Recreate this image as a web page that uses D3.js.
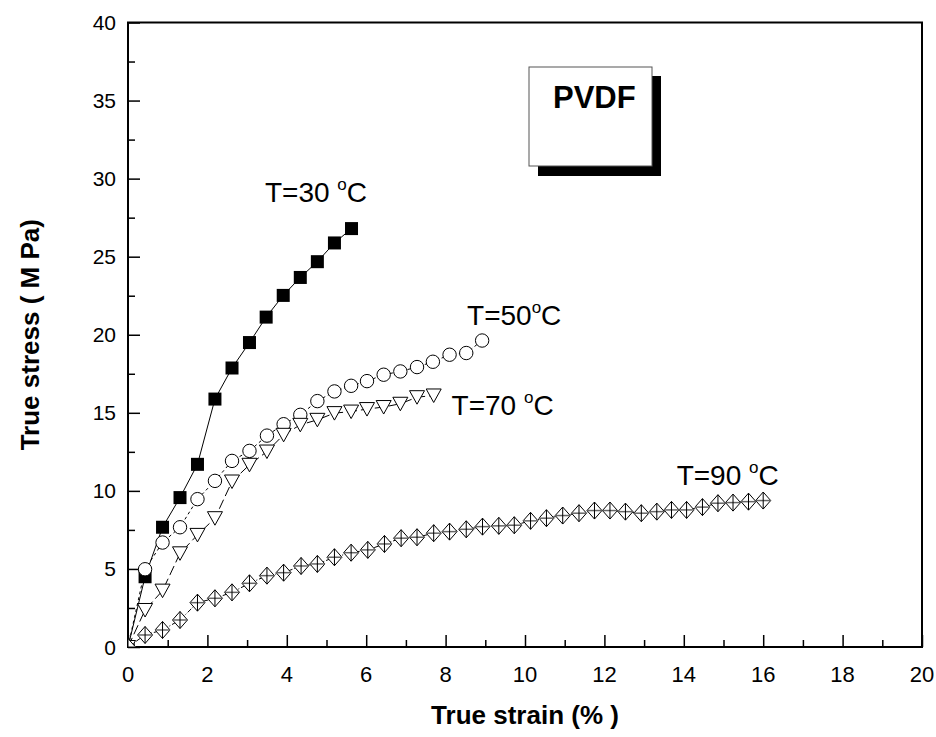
<!DOCTYPE html>
<html>
	<head>
		<title>PVDF true stress</title>
		<meta charset="utf-8">
		<style>
		body {
			margin: 0;
			background: #fff;
		}
		svg text {
			font-family: Arial, "Liberation Sans", sans-serif;
		}
		</style>
		<script src="https://d3js.org/d3.v7.min.js"></script>
	</head>
	<body>
		<svg id="chart" width="936" height="737"></svg>
		<script>
		// values
		const xTicks = [0, 2, 4, 6, 8, 10, 12, 14, 16, 18, 20];
		const yTicks = [0, 5, 10, 15, 20, 25, 30, 35, 40];

		const strain30 = [0, 0.43, 0.87, 1.31, 1.75, 2.19, 2.62, 3.06, 3.48, 3.91, 4.34, 4.77, 5.20, 5.63];
		const stress30 = [0, 4.5, 7.67, 9.57, 11.7, 15.88, 17.87, 19.5, 21.13, 22.52, 23.67, 24.68, 25.88, 26.8];

		const strain50 = [0, 0.43, 0.87, 1.31, 1.75, 2.19, 2.62, 3.06, 3.50, 3.92, 4.34, 4.77, 5.20, 5.62, 6.02, 6.44, 6.86, 7.28, 7.68, 8.10, 8.52, 8.92];
		const stress50 = [0, 4.98, 6.69, 7.67, 9.47, 10.64, 11.92, 12.56, 13.54, 14.27, 14.87, 15.75, 16.37, 16.73, 17.03, 17.44, 17.65, 17.93, 18.27, 18.72, 18.83, 19.63];

		const strain70 = [0, 0.43, 0.87, 1.31, 1.75, 2.19, 2.62, 3.06, 3.50, 3.92, 4.34, 4.77, 5.20, 5.62, 6.02, 6.44, 6.86, 7.28, 7.70];
		const stress70 = [0, 2.37, 3.61, 6.0, 7.18, 8.25, 10.6, 11.67, 12.52, 13.59, 14.23, 14.55, 14.98, 15.08, 15.24, 15.37, 15.58, 16.0, 16.11];

		const strain90 = [0, 0.43, 0.87, 1.31, 1.75, 2.19, 2.62, 3.06, 3.50, 3.92, 4.36, 4.77, 5.20, 5.62, 6.04, 6.46, 6.88, 7.28, 7.70, 8.10,
			8.52, 8.93, 9.34, 9.73, 10.14, 10.54, 10.95, 11.36, 11.75, 12.14, 12.53, 12.93, 13.32, 13.69, 14.07, 14.47, 14.86, 15.24, 15.63, 16.0];
		const stress90 = [0, 0.77, 1.09, 1.73, 2.84, 3.12, 3.5, 4.08, 4.57, 4.76, 5.19, 5.32, 5.75, 6.04, 6.22, 6.6, 6.97, 7.03, 7.29, 7.39,
			7.54, 7.71, 7.76, 7.8, 8.08, 8.25, 8.42, 8.57, 8.74, 8.74, 8.67, 8.57, 8.67, 8.78, 8.78, 8.96, 9.21, 9.25, 9.31, 9.38];

		const temps = ["30", "50", "70", "90"];
		// label start (strain) and baseline (stress) for each temperature
		const labelStrain = [3.45, 8.54, 8.15, 13.82];
		const labelStress = [28.53, 20.63, 14.86, 10.38];

		// plot box
		const plotLeft = 128, plotRight = 922, plotTop = 22.5, plotBottom = 647;

		const svg = d3.select("#chart");

		const x = d3.scaleLinear().domain([0, 20]).range([plotLeft, plotRight]);
		const y = d3.scaleLinear().domain([0, 40]).range([plotBottom, plotTop]);

		// frame
		svg.append("rect")
			.attr("x", plotLeft).attr("y", plotTop)
			.attr("width", plotRight - plotLeft).attr("height", plotBottom - plotTop)
			.attr("fill", "none").attr("stroke", "#000").attr("stroke-width", 2);

		// x axis, ticks pointing inwards
		const xAxis = svg.append("g").attr("transform", "translate(0," + plotBottom + ")");
		xAxis.call(d3.axisBottom(x).tickValues(d3.range(0, 21, 1)).tickSize(0).tickFormat(""));
		xAxis.selectAll(".tick line")
			.attr("y2", d => d % 2 === 0 ? -12 : -7)
			.attr("stroke-width", 1.5);
		xAxis.select(".domain").remove();
		svg.selectAll(".xlab").data(xTicks).enter().append("text")
			.attr("x", d => x(d)).attr("y", 682)
			.attr("text-anchor", "middle")
			.attr("font-size", 22)
			.text(d => d);

		// y axis
		const yAxis = svg.append("g").attr("transform", "translate(" + plotLeft + ",0)");
		yAxis.call(d3.axisLeft(y).tickValues(d3.range(0, 40.1, 2.5)).tickSize(0).tickFormat(""));
		yAxis.selectAll(".tick line")
			.attr("x2", d => d % 5 === 0 ? 12 : 7)
			.attr("stroke-width", 1.5);
		yAxis.select(".domain").remove();
		svg.selectAll(".ylab").data(yTicks).enter().append("text")
			.attr("x", 116).attr("y", d => y(d) + 7.5)
			.attr("text-anchor", "end")
			.attr("font-size", 21)
			.text(d => d);

		// axis titles
		svg.append("text")
			.attr("x", (plotLeft + plotRight) / 2).attr("y", 724)
			.attr("text-anchor", "middle")
			.attr("font-size", 26).attr("font-weight", "bold")
			.text("True strain (% )");
		svg.append("text")
			.attr("transform", "translate(39," + ((plotTop + plotBottom) / 2) + ") rotate(-90)")
			.attr("text-anchor", "middle")
			.attr("font-size", 26).attr("font-weight", "bold")
			.text("True stress ( M Pa)");

		svg.append("clipPath").attr("id", "plotclip")
			.append("rect")
			.attr("x", plotLeft).attr("y", plotTop)
			.attr("width", plotRight - plotLeft).attr("height", plotBottom - plotTop);

		const plot = svg.append("g").attr("clip-path", "url(#plotclip)");

		function pts(xs, ys) {
			return xs.map((v, i) => [v, ys[i]]);
		}

		const line = d3.line().x(d => x(d[0])).y(d => y(d[1]));

		const series = [
			{ data: pts(strain30, stress30), dash: null, marker: "square" },
			{ data: pts(strain50, stress50), dash: "3,3", marker: "circle" },
			{ data: pts(strain70, stress70), dash: "10,4", marker: "triangle" },
			{ data: pts(strain90, stress90), dash: "5,2,1,2", marker: "diamond" }
		];

		// lines first, markers on top
		series.forEach(s => {
			plot.append("path")
				.datum(s.data)
				.attr("d", line)
				.attr("fill", "none")
				.attr("stroke", "#000")
				.attr("stroke-width", 1)
				.attr("stroke-dasharray", s.dash);
		});

		series.forEach(s => {
			const g = plot.append("g");
			s.data.forEach(d => {
				const cx = x(d[0]), cy = y(d[1]);
				if (s.marker == "square") {
					g.append("rect")
						.attr("x", cx - 6.5).attr("y", cy - 6.5)
						.attr("width", 13).attr("height", 13)
						.attr("fill", "#000");
				}
				else if (s.marker == "circle") {
					g.append("circle")
						.attr("cx", cx).attr("cy", cy).attr("r", 6.7)
						.attr("fill", "#fff").attr("stroke", "#000").attr("stroke-width", 1);
				}
				else if (s.marker == "triangle") {
					g.append("path")
						.attr("d", "M" + (cx - 7.5) + "," + (cy - 6.5) + "L" + (cx + 7.5) + "," + (cy - 6.5) + "L" + cx + "," + (cy + 7) + "Z")
						.attr("fill", "#fff").attr("stroke", "#000").attr("stroke-width", 1);
				}
				else {
					g.append("path")
						.attr("d", "M" + cx + "," + (cy - 8.5) + "L" + (cx + 7.5) + "," + cy + "L" + cx + "," + (cy + 8.5) + "L" + (cx - 7.5) + "," + cy + "Z")
						.attr("fill", "#fff").attr("stroke", "#000").attr("stroke-width", 1);
					g.append("path")
						.attr("d", "M" + (cx - 7.5) + "," + cy + "L" + (cx + 7.5) + "," + cy)
						.attr("stroke", "#666").attr("stroke-width", 1.5);
					g.append("path")
						.attr("d", "M" + cx + "," + (cy - 8.5) + "L" + cx + "," + (cy + 8.5))
						.attr("stroke", "#000").attr("stroke-width", 1);
				}
			});
		});

		// temperature labels with superscript degree "o"
		temps.forEach((t, i) => {
			const txt = svg.append("text")
				.attr("x", x(labelStrain[i])).attr("y", y(labelStress[i]))
				.attr("font-size", 28);
			txt.append("tspan").text("T=" + t + (i == 1 ? "" : " "));
			txt.append("tspan").attr("font-size", 17).attr("dy", -11.5).text("o");
			txt.append("tspan").attr("dy", 11.5).text("C");
		});

		// PVDF box with drop shadow
		svg.append("rect")
			.attr("x", 538).attr("y", 76).attr("width", 123).attr("height", 100)
			.attr("fill", "#000");
		svg.append("rect")
			.attr("x", 529).attr("y", 67).attr("width", 123).attr("height", 99)
			.attr("fill", "#fff").attr("stroke", "#555").attr("stroke-width", 1);
		svg.append("text")
			.attr("x", 553).attr("y", 108)
			.attr("font-size", 31).attr("font-weight", "bold")
			.text("PVDF");
		</script>
	</body>
</html>
